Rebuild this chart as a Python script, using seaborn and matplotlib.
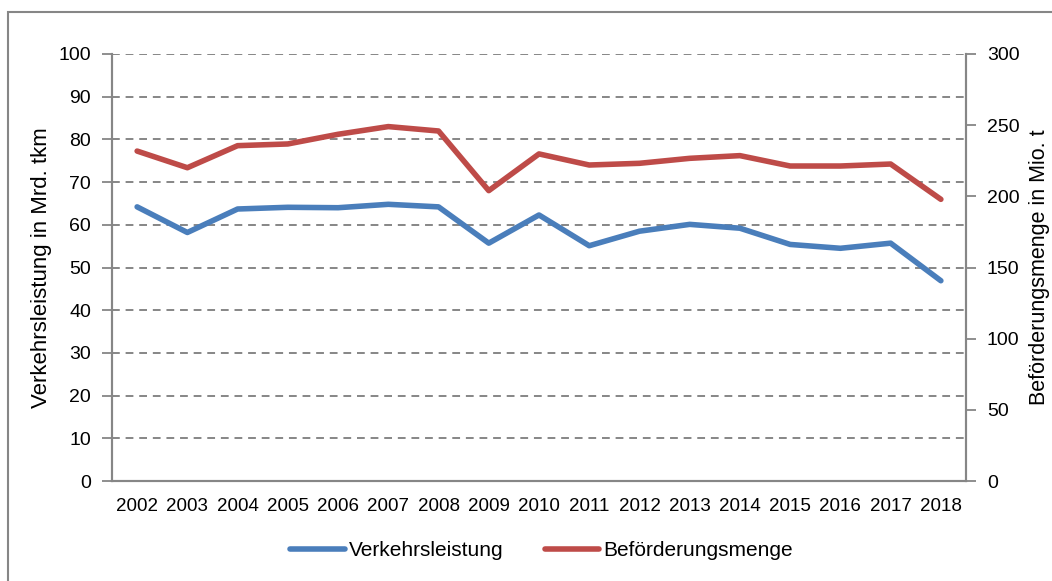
import numpy as np
import pandas as pd
import matplotlib.pyplot as plt
import seaborn as sns
from matplotlib.patches import Rectangle
from matplotlib.ticker import FixedLocator

years = [str(y) for y in range(2002, 2019)]
verkehrsleistung = [64.2, 58.2, 63.7, 64.1, 64.0, 64.8, 64.2, 55.7, 62.3,
                    55.1, 58.5, 60.1, 59.2, 55.4, 54.5, 55.7, 46.9]
befoerderung = [231.8, 220.1, 235.6, 236.8, 243.6, 249.0, 245.9, 204.0, 229.8,
                222.0, 223.2, 226.7, 228.6, 221.3, 221.3, 222.7, 197.9]

df = pd.DataFrame({"Jahr": years, "Verkehrsleistung": verkehrsleistung,
                   "Beförderungsmenge": befoerderung})

sns.set_style("white")
plt.rcParams['font.family'] = ['Liberation Sans', 'DejaVu Sans']
plt.rcParams['text.color'] = 'black'
plt.rcParams['axes.labelcolor'] = 'black'
plt.rcParams['xtick.labelcolor'] = 'black'
plt.rcParams['ytick.labelcolor'] = 'black'
grey = "#868686"
blue = "#4A7EBB"
red = "#BE4B48"

fig = plt.figure(figsize=(10.52, 5.81), dpi=100)
ax = fig.add_axes([112/1052, 1-481/581, (966-112)/1052, (481-54)/581])
ax2 = ax.twinx()

sns.lineplot(data=df, x="Jahr", y="Verkehrsleistung", ax=ax, color=blue,
             linewidth=4, label="Verkehrsleistung", legend=False, sort=False)
sns.lineplot(data=df, x="Jahr", y="Beförderungsmenge", ax=ax2, color=red,
             linewidth=4, label="Beförderungsmenge", legend=False, sort=False)

ax.set_xlim(-0.5, len(years) - 0.5)
ax.set_ylim(0, 100)
ax2.set_ylim(0, 300)
ax.set_yticks(range(0, 101, 10))
ax2.set_yticks(range(0, 301, 50))

# dashed gridlines on the left scale
for v in range(10, 101, 10):
    ax.axhline(v, color=grey, linestyle=(0, (4, 3)), linewidth=1.4, zorder=0)

ax.xaxis.set_minor_locator(FixedLocator(np.arange(-0.5, len(years), 1)))
ax.tick_params(axis="x", which="major", length=0, pad=12, labelsize=13.5)
ax.tick_params(axis="x", which="minor", length=6, color=grey, width=1.3, direction="out")
ax.tick_params(axis="y", length=7, color=grey, width=1.3, direction="out", labelsize=14, pad=8)
ax2.tick_params(axis="y", length=7, color=grey, width=1.3, direction="out", labelsize=14, pad=8)

for a in (ax, ax2):
    a.spines["top"].set_visible(False)
    for side in ["left", "bottom", "right"]:
        a.spines[side].set_color(grey)
        a.spines[side].set_linewidth(1.5)

ax.set_xlabel("")
ax.set_ylabel("Verkehrsleistung in Mrd. tkm", fontsize=16, labelpad=5)
ax2.set_ylabel("Beförderungsmenge in Mio. t", fontsize=15.5, labelpad=7)

h1, l1 = ax.get_legend_handles_labels()
h2, l2 = ax2.get_legend_handles_labels()
fig.legend(h1 + h2, l1 + l2, loc="center", bbox_to_anchor=(0.515, 0.052), ncol=2,
           frameon=False, fontsize=15, handlelength=2.6, handletextpad=0.2,
           columnspacing=2.0)

# outer chart border
fig.patches.append(Rectangle((8/1052, -0.1), 1.2, 1-12/581+0.1, transform=fig.transFigure,
                             fill=False, edgecolor=grey, linewidth=1.5))

fig.savefig("out.png", dpi=100)
